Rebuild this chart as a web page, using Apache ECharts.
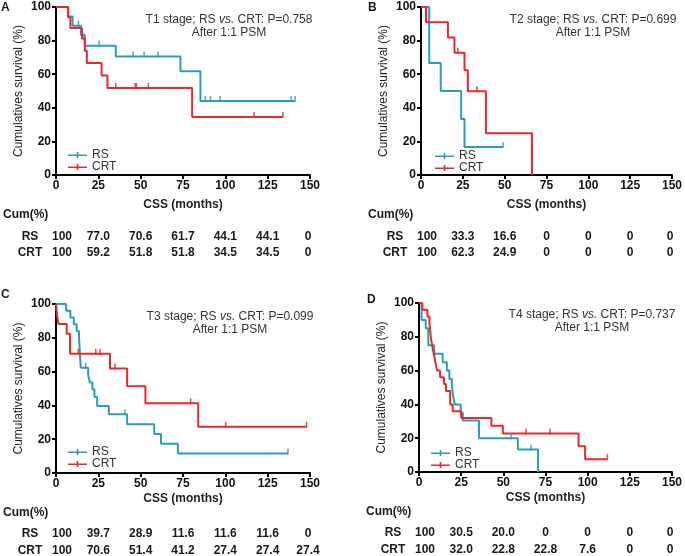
<!DOCTYPE html>
<html><head><meta charset="utf-8">
<script src="https://cdn.jsdelivr.net/npm/echarts@6/dist/echarts.min.js"></script>
<style>html,body{margin:0;padding:0;background:#fff}#c{width:685px;height:556px}</style>
</head><body><div id="c"></div>
<script>
// ---------- DATA ----------
const panelLetters = ['A', 'B', 'C', 'D'];
const stageTitles = ['T1 stage', 'T2 stage', 'T3 stage', 'T4 stage'];
const pValues = ['0.758', '0.699', '0.099', '0.737'];
const xTicks = [0, 25, 50, 75, 100, 125, 150];

// Kaplan-Meier steps: times (months) and survival (%)
const A_RS_t = [0, 7, 9.8, 14.7, 17, 35.3, 73.5, 85.3, 141.2];
const A_RS_s = [100, 94.4, 88.9, 83.3, 77.0, 70.6, 61.7, 44.1, 44.1];
const A_RS_cens = [13.3, 25.5, 45.5, 52, 60.2, 88.2, 91.2, 97, 138.8, 141.2];
const A_CRT_t = [0, 7.3, 8.5, 15.3, 17, 18.2, 26.9, 30.4, 80.4, 134];
const A_CRT_s = [100, 93.8, 87.5, 81.3, 74.0, 66.6, 59.2, 51.8, 34.5, 34.5];
const A_CRT_cens = [15.8, 35.3, 46.7, 47.5, 54.5, 117, 134];

const B_RS_t = [0, 4.9, 11.8, 24, 26, 49];
const B_RS_s = [100, 66.6, 50, 33.3, 16.6, 16.6];
const B_RS_cens = [49];
const B_CRT_t = [0, 3, 16.1, 20, 26, 28, 38.8, 66.3];
const B_CRT_s = [100, 90.9, 81.8, 72.7, 62.3, 49.8, 24.9, 0];
const B_CRT_cens = [22, 33.5];

const C_RS_t = [0, 6, 8.5, 10.5, 12.2, 13.6, 14.6, 19, 20, 21.5, 22.7, 24.3, 31.2, 42, 58, 62, 72, 137];
const C_RS_s = [100, 96, 92, 88, 84, 80, 62.3, 58, 53.5, 49.5, 45, 39.7, 34.7, 28.9, 23.1, 17.3, 11.6, 11.6];
const C_RS_cens = [17.5, 40.7, 137];
const C_CRT_t = [0, 0.5, 1.4, 6.3, 8.3, 31.9, 42, 52.8, 84, 148];
const C_CRT_s = [100, 94.1, 88.2, 82.4, 70.6, 61.8, 51.4, 41.2, 27.4, 27.4];
const C_CRT_cens = [13.2, 23.5, 26, 34.8, 79.5, 100.2, 148];

const D_RS_t = [0, 1.5, 4, 5.5, 9, 14, 16.5, 18, 19.5, 20.3, 21.2, 24.8, 26, 35.6, 58.6, 70.6];
const D_RS_s = [100, 90, 85, 75, 70, 65, 60, 55, 50, 45, 40, 35, 30.5, 20, 13.3, 0];
const D_RS_cens = [54.6, 66.4];
const D_CRT_t = [0, 2, 5, 6.2, 7, 7.6, 8.3, 9.2, 9.9, 10.8, 12.5, 14.8, 16, 18.5, 20, 25, 42.9, 49.7, 94.6, 98.5, 111.7];
const D_CRT_s = [100, 96, 92, 88, 80, 76, 72, 68, 64, 60, 56, 52, 48, 40, 36, 32, 27.4, 22.8, 15.2, 7.6, 7.6];
const D_CRT_cens = [63.5, 77.6, 111.7];

// Cum (%) table
const tabA_RS = ['100', '77.0', '70.6', '61.7', '44.1', '44.1', '0'];
const tabA_CRT = ['100', '59.2', '51.8', '51.8', '34.5', '34.5', '0'];
const tabB_RS = ['100', '33.3', '16.6', '0', '0', '0', '0'];
const tabB_CRT = ['100', '62.3', '24.9', '0', '0', '0', '0'];
const tabC_RS = ['100', '39.7', '28.9', '11.6', '11.6', '11.6', '0'];
const tabC_CRT = ['100', '70.6', '51.4', '41.2', '27.4', '27.4', '27.4'];
const tabD_RS = ['100', '30.5', '20.0', '0', '0', '0', '0'];
const tabD_CRT = ['100', '32.0', '22.8', '22.8', '7.6', '0', '0'];

// ---------- BUILD ----------
const FONT = 'Liberation Sans, Arial, sans-serif';
const TEAL = '#2a9fb4';
const RED = '#e42a2c';
const panels = [
  { rs: [A_RS_t, A_RS_s, A_RS_cens], crt: [A_CRT_t, A_CRT_s, A_CRT_cens], tab: [tabA_RS, tabA_CRT] },
  { rs: [B_RS_t, B_RS_s, B_RS_cens], crt: [B_CRT_t, B_CRT_s, B_CRT_cens], tab: [tabB_RS, tabB_CRT] },
  { rs: [C_RS_t, C_RS_s, C_RS_cens], crt: [C_CRT_t, C_CRT_s, C_CRT_cens], tab: [tabC_RS, tabC_CRT] },
  { rs: [D_RS_t, D_RS_s, D_RS_cens], crt: [D_CRT_t, D_CRT_s, D_CRT_cens], tab: [tabD_RS, tabD_CRT] }
];
const layout = [
  { left: 56, top: 7, width: 254, height: 168, nameGap: 24, letter: [1, 3], title: [229, 13], legend: [63, 144], rows: [62, 78] },
  { left: 421, top: 7, width: 254, height: 168, nameGap: 24, letter: [368, 3], title: [593, 13], legend: [430, 145], rows: [62, 78] },
  { left: 56, top: 304, width: 254, height: 169, nameGap: 20, letter: [1, 290], title: [230, 310], legend: [63, 441], rows: [61, 78] },
  { left: 419, top: 303, width: 254, height: 169, nameGap: 20, letter: [367, 295], title: [592, 308], legend: [426, 442], rows: [61, 78] }
];

function survAt(t, ts, ss) {
  let v = ss[0];
  for (let i = 0; i < ts.length; i++) if (ts[i] <= t) v = ss[i];
  return v;
}
const iconPath = 'path://M0,2.4L19,2.4L19,4L0,4Z M8.7,0L10.3,0L10.3,6L8.7,6Z';

const grid = [], xAxis = [], yAxis = [], series = [], legend = [], title = [];
panels.forEach((p, i) => {
  const L = layout[i];
  grid.push({ left: L.left, top: L.top, width: L.width, height: L.height });
  xAxis.push({
    gridIndex: i, type: 'value', min: 0, max: 150, interval: 25,
    name: 'CSS (months)', nameLocation: 'middle', nameGap: L.nameGap,
    nameTextStyle: { fontFamily: FONT, fontWeight: 'bold', fontSize: 12, color: '#222' },
    axisLine: { lineStyle: { color: '#000', width: 2 } },
    axisTick: { length: 4, lineStyle: { color: '#000', width: 2 } },
    axisLabel: { fontFamily: FONT, fontWeight: 'bold', fontSize: 12, color: '#111', margin: 5 },
    splitLine: { show: false }
  });
  yAxis.push({
    gridIndex: i, type: 'value', min: 0, max: 100, interval: 20,
    name: 'Cumulatives survival (%)', nameLocation: 'middle', nameGap: 31,
    nameTextStyle: { fontFamily: FONT, fontSize: 12, color: '#222' },
    axisLine: { show: true, lineStyle: { color: '#000', width: 2 } },
    axisTick: { show: true, length: 4, lineStyle: { color: '#000', width: 2 } },
    axisLabel: { fontFamily: FONT, fontWeight: 'bold', fontSize: 12, color: '#111', margin: 5 },
    splitLine: { show: false }
  });
  [['RS', p.rs, TEAL], ['CRT', p.crt, RED]].forEach(([nm, d, col]) => {
    series.push({
      name: nm, type: 'line', step: 'end', xAxisIndex: i, yAxisIndex: i,
      symbol: 'none', data: d[0].map((t, k) => [t, d[1][k]]),
      lineStyle: { color: col, width: 2 }, itemStyle: { color: col },
      z: nm === 'CRT' ? 3 : 2, silent: true, animation: false
    });
    series.push({
      name: nm + ' censored', type: 'scatter', xAxisIndex: i, yAxisIndex: i,
      symbol: 'rect', symbolSize: [1.6, 6], symbolOffset: [0, -2],
      data: d[2].map(t => [t, survAt(t, d[0], d[1])]),
      itemStyle: { color: col }, z: 4, silent: true, animation: false
    });
  });
  legend.push({
    left: L.legend[0], top: L.legend[1], orient: 'vertical',
    itemWidth: 19, itemHeight: 6, itemGap: 0, selectedMode: false,
    data: [{ name: 'RS', icon: iconPath, itemStyle: { color: TEAL } },
           { name: 'CRT', icon: iconPath, itemStyle: { color: RED } }],
    textStyle: { fontFamily: FONT, fontSize: 12, color: '#333', lineHeight: 12, padding: [0, 0, 0, 0] }
  });
  title.push({
    text: '{n|' + stageTitles[i] + '; RS }{i|vs.}{n| CRT: P=' + pValues[i] + '}\n{n|After 1:1 PSM}',
    left: L.title[0], top: L.title[1], textAlign: 'center', padding: 0,
    textStyle: {
      fontWeight: 'normal',
      rich: {
        n: { fontFamily: FONT, fontSize: 12, fontWeight: 'normal', color: '#333', lineHeight: 13 },
        i: { fontFamily: FONT, fontSize: 12, fontWeight: 'normal', color: '#333', lineHeight: 13, fontStyle: 'italic' }
      }
    }
  });
});

const chart = echarts.init(document.getElementById('c'), null, { renderer: 'canvas' });
chart.setOption({ animation: false, backgroundColor: '#fff', grid, xAxis, yAxis, series, legend, title });

// Panel letters and Cum(%) tables
const graphic = [];
const txt = (x, y, s, align) => ({
  type: 'text', x, y,
  style: { text: s, fontFamily: FONT, fontSize: 12, fontWeight: 'bold', fill: '#1a1a1a', align: align || 'center', verticalAlign: 'middle' }
});
panels.forEach((p, i) => {
  const L = layout[i];
  const axisY = L.top + L.height;
  graphic.push(txt(L.letter[0], L.letter[1] + 5, panelLetters[i], 'left'));
  graphic.push(txt(L.left - 53, axisY + 40, 'Cum(%)', 'left'));
  ['RS', 'CRT'].forEach((nm, r) => {
    const y = axisY + L.rows[r];
    graphic.push(txt(L.left - 26, y, nm, 'center'));
    p.tab[r].forEach((v, k) => {
      let x = chart.convertToPixel({ xAxisIndex: i }, xTicks[k]);
      if (k === 0) x += 6;
      if (k === xTicks.length - 1) x -= 2;
      graphic.push(txt(x, y, v, 'center'));
    });
  });
});
chart.setOption({ graphic });
</script></body></html>
